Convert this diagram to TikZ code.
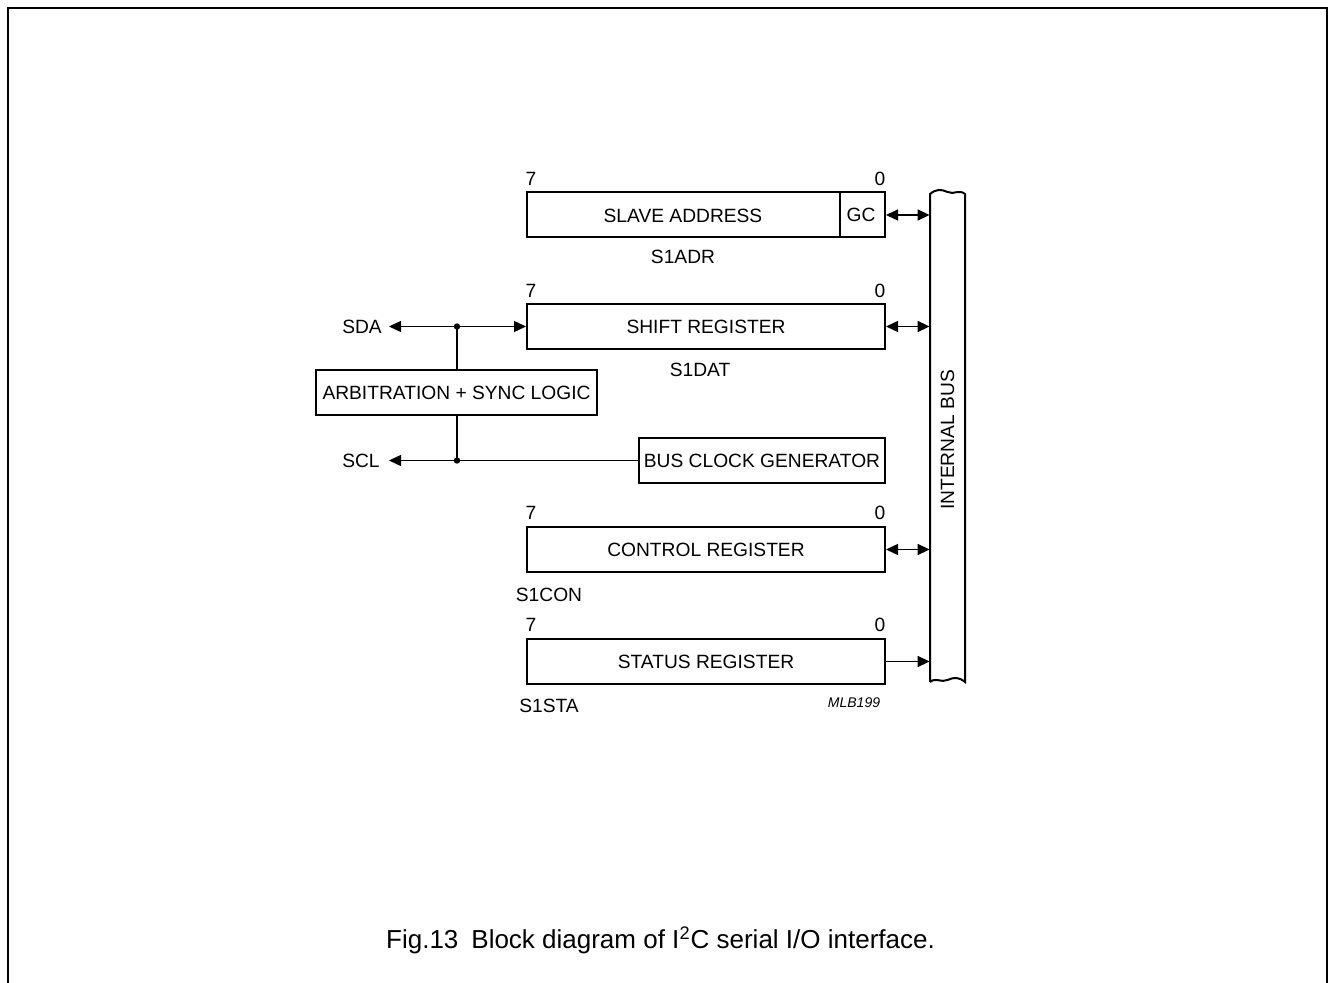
\documentclass[tikz,border=0pt]{standalone}
\usepackage{fontspec}
\setmainfont{Liberation Sans}
\usetikzlibrary{arrows.meta}
\begin{document}
\begin{tikzpicture}[x=0.5pt,y=-0.5pt,
  txt/.style={font=\fontsize{9.6}{11}\selectfont, inner sep=0pt},
  reg/.style={draw, line width=1pt, minimum width=179pt, minimum height=22.5pt, inner sep=0pt, font=\fontsize{9.6}{11}\selectfont},
  blk/.style={draw, line width=1pt, minimum height=22.5pt, inner sep=0pt, font=\fontsize{9.6}{11}\selectfont},
  conn/.style={line width=0.7pt},
  tip/.style={-{Triangle[length=6pt,width=5.5pt]}},
  bitip/.style={{Triangle[length=6pt,width=5.5pt]}-{Triangle[length=6pt,width=5.5pt]}},
  dot/.style={circle, fill, inner sep=0pt, minimum size=3.2pt}
]
\useasboundingbox (0,0) rectangle (1329,983);
% frame
\draw[line width=1pt] (7.5,983) -- (7.5,8) -- (1327,8) -- (1327,983);

% internal bus
\node[minimum width=17.5pt, minimum height=245pt, inner sep=0pt] (bus) at (947.5,437) {};
\draw[line width=1pt] (930,682) -- (930,194)
  .. controls (936,189) and (941,189) .. (947.5,192)
  .. controls (954,195) and (959,189) .. (965,194) -- (965,682)
  .. controls (959,677) and (954,677) .. (947.5,680)
  .. controls (941,683) and (936,677) .. (930,682);
\node[txt, rotate=90] (buslbl) at (947.5,440) {INTERNAL BUS};

% slave address register
\node[reg] (sa) at (706,214.5) {};
\node[txt] (salbl) at (683,216) {SLAVE ADDRESS};
\draw[line width=1pt] (840,192) -- (840,237);
\node[txt] (gc) at (861,215) {GC};
\node[txt] (sa7) at (531,179) {7};
\node[txt] (sa0) at (880,179) {0};
\node[txt] (s1adr) at (683,257) {S1ADR};

% shift register
\node[reg] (sr) at (706,326.5) {SHIFT REGISTER};
\node[txt] (sr7) at (531,291) {7};
\node[txt] (sr0) at (880,291) {0};
\node[txt] (s1dat) at (700,370) {S1DAT};

% arbitration
\node[blk, minimum width=140.5pt] (arb) at (456.5,392.5) {ARBITRATION + SYNC LOGIC};

% bus clock generator
\node[blk, minimum width=123pt] (bcg) at (762,460.5) {BUS CLOCK GENERATOR};

% control register
\node[reg] (cr) at (706,549.5) {CONTROL REGISTER};
\node[txt] (cr7) at (531,513) {7};
\node[txt] (cr0) at (880,513) {0};
\node[txt] (s1con) at (549,595) {S1CON};

% status register
\node[reg] (st) at (706,661.5) {STATUS REGISTER};
\node[txt] (st7) at (531,625) {7};
\node[txt] (st0) at (880,625) {0};
\node[txt] (s1sta) at (549,706) {S1STA};
\node[font=\fontsize{7}{8}\selectfont\itshape, inner sep=0pt] (mlb) at (854,703) {MLB199};

% SDA / SCL
\node[txt] (sda) at (362,327) {SDA};
\node[txt] (scl) at (361,461) {SCL};
\coordinate (sdaend) at (389,326.5);
\coordinate (sclend) at (389,460.5);
\node[dot] (j1) at (457,326.5) {};
\node[dot] (j2) at (457,460.5) {};
\draw[conn,tip] (j1.center) -- (sdaend);
\draw[conn,tip] (j1.center) -- (sr.west);
\draw[conn,tip] (j2.center) -- (sclend);
\draw[conn] (j2.center) -- (bcg.west);
\draw[conn] (j1.center) -- (arb.north -| j1);
\draw[conn] (arb.south -| j2) -- (j2.center);

% bus connections
\draw[conn,bitip] (sa.east |- 0,215) -- (bus.west |- 0,215);
\draw[conn,bitip] (sr.east) -- (bus.west |- sr.east);
\draw[conn,bitip] (cr.east) -- (bus.west |- cr.east);
\draw[conn,tip] (st.east) -- (bus.west |- st.east);

% caption
\node[font=\fontsize{13}{15}\selectfont, inner sep=0pt] (cap) at (660.5,940) {Fig.13\enspace Block diagram of I\textsuperscript{2}C serial I/O interface.};
\end{tikzpicture}
\end{document}
